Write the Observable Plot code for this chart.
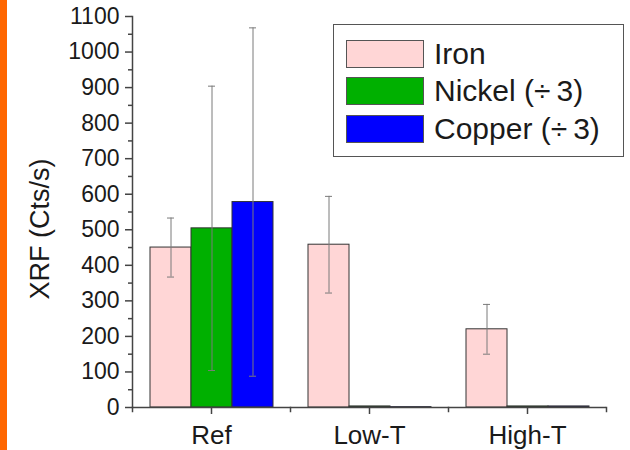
<!DOCTYPE html>
<html>
<head>
<meta charset="utf-8">
<script src="https://cdn.jsdelivr.net/npm/d3@7"></script>
<script src="https://cdn.jsdelivr.net/npm/@observablehq/plot@0.6"></script>
<style>
  body { margin: 0; background: #fff; }
  #wrap { position: relative; width: 630px; height: 450px; overflow: hidden; font-family: "Liberation Sans", Arial, sans-serif; color: #1a1a1a; background: #fff; }
  #wrap svg { display: block; position: absolute; left: 0; top: 0; }
  #strip { position: absolute; left: 0; top: 0; width: 7px; height: 450px; background: #ff6600; z-index: 2; }
  #ylabel { position: absolute; left: 40px; top: 229px; transform: translate(-50%, -50%) rotate(-90deg); font-size: 27px; white-space: nowrap; z-index: 2; }
  #legend { position: absolute; left: 333px; top: 24px; width: 289px; height: 131px; border: 1px solid #555; background: #fff; z-index: 2; box-sizing: content-box; }
  .row { position: absolute; left: 12px; display: flex; align-items: center; height: 28px; }
  .sw { width: 76px; height: 26px; border: 1px solid #555; margin-right: 10px; }
  .lab { font-size: 30px; line-height: 28px; white-space: nowrap; }
</style>
</head>
<body>
<div id="wrap"><div id="strip"></div></div>
<script>
const categories = ["Ref", "Low-T", "High-T"];
const series = ["Iron", "Nickel", "Copper"];
const seriesLabels = ["Iron", "Nickel (\u00f7\u20093)", "Copper (\u00f7\u20093)"];
const seriesColors = ["#ffd6d6", "#00b000", "#0000ff"];
const ironValues = [450, 458, 220];
const ironErrors = [83, 136, 70];
const nickelValues = [504, 3, 3];
const nickelErrors = [400, 0, 0];
const copperValues = [578, 1, 3];
const copperErrors = [490, 0, 0];
const yMajorTicks = [0, 100, 200, 300, 400, 500, 600, 700, 800, 900, 1000, 1100];
const yMinorTicks = [50, 150, 250, 350, 450, 550, 650, 750, 850, 950, 1050];

const valueSets = [ironValues, nickelValues, copperValues];
const errorSets = [ironErrors, nickelErrors, copperErrors];
const rows = [];
categories.forEach((c, i) => {
  series.forEach((s, j) => {
    rows.push({cat: c, series: s, value: valueSets[j][i], err: errorSets[j][i]});
  });
});
const errRows = rows.filter(d => d.err > 0);

const chart = Plot.plot({
  width: 630,
  height: 450,
  marginLeft: 131,
  marginRight: 23,
  marginTop: 16,
  marginBottom: 43,
  style: {fontFamily: "Liberation Sans, Arial, sans-serif", background: "transparent", color: "#1a1a1a"},
  fx: {domain: categories, padding: 0, label: null},
  x: {domain: series, paddingInner: 0, paddingOuter: 0.39, axis: null},
  y: {domain: [0, 1100]},
  color: {domain: series, range: seriesColors},
  marks: [
    Plot.barY(rows, {fx: "cat", x: "series", y: "value", fill: "series", stroke: "#333", strokeWidth: 1}),
    Plot.ruleX(errRows, {fx: "cat", x: "series", y1: d => d.value - d.err, y2: d => d.value + d.err, stroke: "#7a7a7a", strokeWidth: 1}),
    Plot.tickY(errRows, {fx: "cat", x: "series", y: d => d.value - d.err, insetLeft: 17, insetRight: 17, stroke: "#7a7a7a", strokeWidth: 1}),
    Plot.tickY(errRows, {fx: "cat", x: "series", y: d => d.value + d.err, insetLeft: 17, insetRight: 17, stroke: "#7a7a7a", strokeWidth: 1}),
    Plot.ruleY([0], {stroke: "#444", strokeWidth: 1.5}),
    Plot.frame({anchor: "left", facetAnchor: "left", stroke: "#444", strokeWidth: 1.5}),
    Plot.axisY({ticks: yMajorTicks, tickSize: 7, tickPadding: 6, fontSize: 23, tickFormat: d => String(d), label: null, stroke: "#444", strokeWidth: 1.5}),
    Plot.axisY({ticks: yMinorTicks, tickSize: 4, tickFormat: () => "", label: null, stroke: "#444", strokeWidth: 1.5}),
    Plot.axisFx({anchor: "bottom", tickSize: 7, tickPadding: 11, fontSize: 26, label: null, stroke: "#444", strokeWidth: 1.5}),
    Plot.frame({anchor: "left", insetTop: 391, insetBottom: -4, stroke: "#444", strokeWidth: 1.5}),
    Plot.frame({anchor: "right", facetAnchor: "right", insetTop: 391, insetBottom: -4, stroke: "#444", strokeWidth: 1.5})
  ]
});

const wrap = document.getElementById("wrap");
wrap.appendChild(chart);

const yl = document.createElement("div");
yl.id = "ylabel";
yl.textContent = "XRF (Cts/s)";
wrap.appendChild(yl);

const legend = document.createElement("div");
legend.id = "legend";
const rowTops = [15, 52, 90];
series.forEach((s, j) => {
  const r = document.createElement("div");
  r.className = "row";
  r.style.top = rowTops[j] + "px";
  const sw = document.createElement("div");
  sw.className = "sw";
  sw.style.background = seriesColors[j];
  const lab = document.createElement("div");
  lab.className = "lab";
  lab.textContent = seriesLabels[j];
  r.appendChild(sw);
  r.appendChild(lab);
  legend.appendChild(r);
});
wrap.appendChild(legend);
</script>
</body>
</html>
